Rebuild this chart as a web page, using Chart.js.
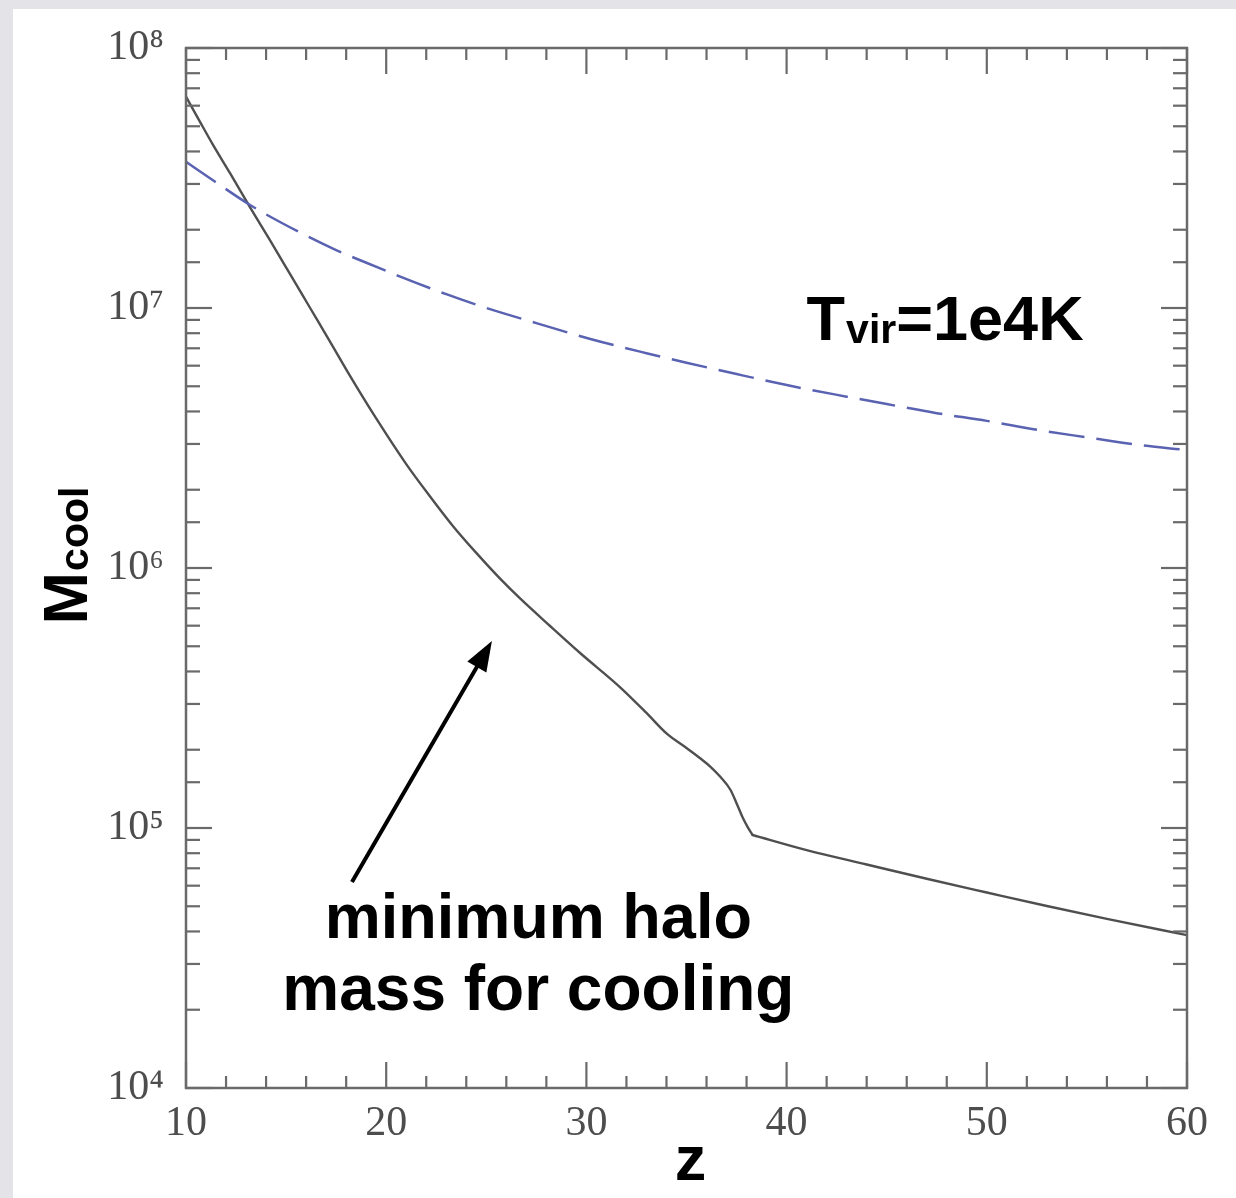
<!DOCTYPE html>
<html>
<head>
<meta charset="utf-8">
<script src="https://cdn.jsdelivr.net/npm/chart.js@4.4.1/dist/chart.umd.min.js"></script>
<style>
  html, body { margin: 0; padding: 0; background: #e4e4e8; }
  #marco { position: absolute; left: 13px; top: 9px; width: 1223px; height: 1189px; background: #ffffff; }
</style>
</head>
<body>
<div id="marco"><canvas id="grafico" width="1223" height="1189" style="width:1223px;height:1189px"></canvas></div>
<script>
// curva solida: masa minima de halo para enfriamiento
const zSolid = [10, 10.7, 11.35, 12.2, 13.2, 14.2, 15.2, 16.2, 17.2, 18.2, 19.5, 21, 22.2, 23.35, 24.5, 25.7, 26.7, 28.2, 29.7, 31.7, 33, 34, 35, 35.7, 36.2, 36.7, 37.2, 37.5, 37.8, 38.05, 38.3, 41, 44, 47, 50, 53, 56, 60];
const mSolid = [6.5e7, 5.2e7, 4.24e7, 3.3e7, 2.44e7, 1.82e7, 1.35e7, 1.0e7, 7.41e6, 5.47e6, 3.76e6, 2.51e6, 1.88e6, 1.445e6, 1.143e6, 9.08e5, 7.62e5, 5.97e5, 4.70e5, 3.47e5, 2.77e5, 2.31e5, 2.03e5, 1.85e5, 1.72e5, 1.57e5, 1.40e5, 1.245e5, 1.10e5, 1.01e5, 9.4e4, 8.22e4, 7.24e4, 6.38e4, 5.65e4, 5.01e4, 4.47e4, 3.87e4];
// esquina de la curva (fin del tramo curvo)
const zQuiebre = 38.3;

// curva discontinua: Tvir = 1e4 K
const zDash = [10, 11.4, 13.2, 15.7, 17.5, 19.7, 20.7, 23, 25, 27.5, 30.2, 33, 35, 37.5, 40.3, 43, 45, 47.5, 50, 52.5, 55, 57.5, 60];
const mDash = [3.65e7, 3.08e7, 2.49e7, 1.95e7, 1.67e7, 1.42e7, 1.32e7, 1.13e7, 1.0e7, 8.75e6, 7.6e6, 6.7e6, 6.16e6, 5.57e6, 5.0e6, 4.56e6, 4.27e6, 3.94e6, 3.68e6, 3.40e6, 3.18e6, 2.98e6, 2.84e6];

const xLabels = [10, 20, 30, 40, 50, 60];
const supers = { 4: '\u2074', 5: '\u2075', 6: '\u2076', 7: '\u2077', 8: '\u2078' };

const puntos = (xs, ys) => xs.map((x, i) => ({ x: x, y: ys[i] }));
const solidos = puntos(zSolid, mSolid);
const tramoCurvo = solidos.filter(p => p.x <= zQuiebre);
const tramoRecto = solidos.filter(p => p.x >= zQuiebre);

function linea(ctx, x1, y1, x2, y2) {
    ctx.beginPath();
    ctx.moveTo(x1, y1);
    ctx.lineTo(x2, y2);
    ctx.stroke();
}

// marco y marcas hacia dentro en los cuatro lados
const marcoPlugin = {
    id: 'marcoPlugin',
    afterDatasetsDraw(chart) {
        const { ctx, chartArea: a, scales: { x, y } } = chart;
        ctx.save();
        ctx.strokeStyle = '#6a6a6a';
        ctx.lineWidth = 2.5;
        ctx.strokeRect(a.left, a.top, a.right - a.left, a.bottom - a.top);
        ctx.lineWidth = 2.2;
        x.ticks.forEach(t => {
            const px = x.getPixelForValue(t.value);
            const len = t.value % 10 === 0 ? 26 : 12;
            linea(ctx, px, a.bottom, px, a.bottom - len);
            linea(ctx, px, a.top, px, a.top + len);
        });
        y.ticks.forEach(t => {
            const py = y.getPixelForValue(t.value);
            const lg = Math.log10(t.value);
            const len = Math.abs(lg - Math.round(lg)) < 1e-6 ? 26 : 14;
            linea(ctx, a.left, py, a.left + len, py);
            linea(ctx, a.right, py, a.right - len, py);
        });
        ctx.restore();
    }
};

// textos y flecha
const notasPlugin = {
    id: 'notasPlugin',
    afterDatasetsDraw(chart) {
        const { ctx, chartArea: a, scales: { x, y } } = chart;
        ctx.save();
        ctx.fillStyle = '#000';
        ctx.strokeStyle = '#000';

        // flecha
        const x1 = x.getPixelForValue(18.29), y1 = y.getPixelForValue(6.2e4);
        const x2 = x.getPixelForValue(25.28), y2 = y.getPixelForValue(5.24e5);
        const ang = Math.atan2(y2 - y1, x2 - x1);
        const largo = 30, ancho = 11;
        const bx = x2 - largo * Math.cos(ang), by = y2 - largo * Math.sin(ang);
        ctx.lineWidth = 4;
        linea(ctx, x1, y1, bx + 2 * Math.cos(ang), by + 2 * Math.sin(ang));
        ctx.beginPath();
        ctx.moveTo(x2, y2);
        ctx.lineTo(bx + ancho * Math.sin(ang), by - ancho * Math.cos(ang));
        ctx.lineTo(bx - ancho * Math.sin(ang), by + ancho * Math.cos(ang));
        ctx.closePath();
        ctx.fill();

        const grande = 'bold 63px "Liberation Sans", Arial, sans-serif';
        const chica = 'bold 41px "Liberation Sans", Arial, sans-serif';

        ctx.font = grande;
        ctx.textAlign = 'center';
        ctx.textBaseline = 'alphabetic';
        const cx = x.getPixelForValue(27.6);
        ctx.fillText('minimum halo', cx, y.getPixelForValue(3.78e4));
        ctx.font = 'bold 64px "Liberation Sans", Arial, sans-serif';
        ctx.fillText('mass for cooling', cx, y.getPixelForValue(2.0e4));

        // T_vir=1e4K
        ctx.textAlign = 'left';
        let tx = x.getPixelForValue(41.0);
        const ty = y.getPixelForValue(7.54e6);
        ctx.font = grande;
        ctx.fillText('T', tx, ty);
        tx += ctx.measureText('T').width + 1;
        ctx.font = chica;
        ctx.fillText('vir', tx, ty + 3);
        tx += ctx.measureText('vir').width;
        ctx.font = grande;
        ctx.fillText('=1e4K', tx, ty);

        // titulo eje x
        ctx.textAlign = 'center';
        ctx.fillText('z', x.getPixelForValue(35.2), a.bottom + 92);

        // titulo eje y (M_cool), girado
        ctx.translate(a.left - 99, a.top + 508);
        ctx.rotate(-Math.PI / 2);
        ctx.textAlign = 'left';
        ctx.font = grande;
        const wM = ctx.measureText('M').width;
        ctx.font = chica;
        const wC = ctx.measureText('cool').width;
        let sx = -(wM + wC) / 2;
        ctx.font = grande;
        ctx.fillText('M', sx, 0);
        ctx.font = chica;
        ctx.fillText('cool', sx + wM + 1, 1);
        ctx.restore();
    }
};

const fuenteTicks = { family: '"Liberation Serif", "DejaVu Serif", serif', size: 42 };

new Chart(document.getElementById('grafico'), {
    type: 'line',
    data: {
        datasets: [
            {
                label: 'Tvir=1e4K',
                data: puntos(zDash, mDash),
                borderColor: '#5a62b2',
                borderWidth: 2.5,
                borderDash: [36, 12],
                pointRadius: 0,
                fill: false,
                cubicInterpolationMode: 'monotone'
            },
            {
                label: 'Mcool',
                data: tramoCurvo,
                borderColor: '#4f4f4f',
                borderWidth: 2.4,
                pointRadius: 0,
                fill: false,
                cubicInterpolationMode: 'monotone'
            },
            {
                label: 'Mcool (tramo recto)',
                data: tramoRecto,
                borderColor: '#4f4f4f',
                borderWidth: 2.4,
                borderCapStyle: 'round',
                pointRadius: 0,
                fill: false,
                cubicInterpolationMode: 'monotone'
            }
        ]
    },
    options: {
        responsive: false,
        animation: false,
        devicePixelRatio: 1,
        layout: { padding: { top: 39, right: 49, left: 0, bottom: 0 } },
        plugins: {
            legend: { display: false },
            tooltip: { enabled: false },
            title: { display: false }
        },
        scales: {
            x: {
                type: 'linear',
                min: 10,
                max: 60,
                grid: { display: false, drawTicks: false },
                border: { display: false },
                ticks: {
                    stepSize: 2,
                    autoSkip: false,
                    maxRotation: 0,
                    padding: 11,
                    color: '#4d4d4d',
                    font: fuenteTicks,
                    callback: v => xLabels.includes(v) ? String(v) : ''
                },
                afterFit: s => { s.height = 110; }
            },
            y: {
                type: 'logarithmic',
                min: 1e4,
                max: 1e8,
                grid: { display: false, drawTicks: false },
                border: { display: false },
                ticks: {
                    autoSkip: false,
                    padding: 22,
                    color: '#4d4d4d',
                    font: fuenteTicks,
                    callback: v => {
                        const lg = Math.log10(v);
                        const r = Math.round(lg);
                        return Math.abs(lg - r) < 1e-6 ? '10' + supers[r] : '';
                    }
                },
                afterFit: s => { s.width = 173; s.paddingTop = 0; s.paddingBottom = 0; }
            }
        }
    },
    plugins: [marcoPlugin, notasPlugin]
});
</script>
</body>
</html>
